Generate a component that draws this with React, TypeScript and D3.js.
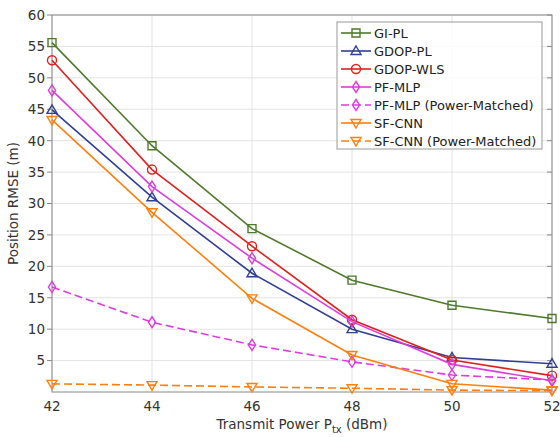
import React, { useEffect, useRef } from 'react';
import * as d3 from 'd3';

const powers = [42, 44, 46, 48, 50, 52];
const giPL = [55.6, 39.2, 26.0, 17.8, 13.8, 11.7];
const gdopPL = [44.9, 31.0, 18.9, 10.0, 5.5, 4.5];
const gdopWLS = [52.8, 35.4, 23.2, 11.5, 5.1, 2.6];
const pfMLP = [48.0, 32.7, 21.3, 11.2, 4.4, 1.8];
const pfMLPPM = [16.7, 11.1, 7.5, 4.8, 2.7, 1.9];
const sfCNN = [43.3, 28.6, 14.9, 5.9, 1.3, 0.3];
const sfCNNPM = [1.3, 1.1, 0.8, 0.6, 0.3, 0.2];
const yTicks = [5, 10, 15, 20, 25, 30, 35, 40, 45, 50, 55, 60];

const series = [
  { name: 'GI-PL', values: giPL, color: '#4e7a2b', marker: 'square', dashed: false },
  { name: 'GDOP-PL', values: gdopPL, color: '#2f3f93', marker: 'triangle', dashed: false },
  { name: 'GDOP-WLS', values: gdopWLS, color: '#e0201e', marker: 'circle', dashed: false },
  { name: 'PF-MLP', values: pfMLP, color: '#dd3ddd', marker: 'diamond', dashed: false },
  { name: 'PF-MLP (Power-Matched)', values: pfMLPPM, color: '#dd3ddd', marker: 'diamond', dashed: true },
  { name: 'SF-CNN', values: sfCNN, color: '#ff7f0e', marker: 'tridown', dashed: false },
  { name: 'SF-CNN (Power-Matched)', values: sfCNNPM, color: '#ff7f0e', marker: 'tridown', dashed: true },
];

function markerPath(kind: string) {
  // paths centered on 0,0
  if (kind === 'square') return 'M-4,-4H4V4H-4Z';
  if (kind === 'triangle') return 'M0,-5L5,3.5L-5,3.5Z';
  if (kind === 'tridown') return 'M0,5L5,-3.5L-5,-3.5Z';
  if (kind === 'diamond') return 'M0,-5.5L3.6,0L0,5.5L-3.6,0Z';
  return d3.symbol(d3.symbolCircle, 64)() as string;
}

export default function App() {
  const svgRef = useRef<SVGSVGElement>(null);

  useEffect(() => {
    const svg = d3.select(svgRef.current);
    svg.selectAll('*').remove();

    const margin = { left: 52, right: 8, top: 15, bottom: 45 };
    const width = 560;
    const height = 437;
    const x = d3.scaleLinear().domain([42, 52]).range([margin.left, width - margin.right]);
    const y = d3.scaleLinear().domain([0, 60]).range([height - margin.bottom, margin.top]);
    const font = 'DejaVu Sans, sans-serif';

    const plot = svg.append('g');

    // grid
    plot.selectAll('.gx').data(powers).enter().append('line')
      .attr('x1', (d) => x(d)).attr('x2', (d) => x(d))
      .attr('y1', y(0)).attr('y2', y(60))
      .attr('stroke', '#e3e3e3').attr('stroke-width', 1);
    plot.selectAll('.gy').data(yTicks).enter().append('line')
      .attr('x1', x(42)).attr('x2', x(52))
      .attr('y1', (d) => y(d)).attr('y2', (d) => y(d))
      .attr('stroke', '#e3e3e3').attr('stroke-width', 1);

    // spines
    plot.append('rect')
      .attr('x', x(42)).attr('y', y(60))
      .attr('width', x(52) - x(42)).attr('height', y(0) - y(60))
      .attr('fill', 'none').attr('stroke', '#888').attr('stroke-width', 1);

    // ticks
    plot.selectAll('.ty').data(yTicks).enter().append('line')
      .attr('x1', x(42) - 5).attr('x2', x(42))
      .attr('y1', (d) => y(d)).attr('y2', (d) => y(d))
      .attr('stroke', '#888');
    plot.selectAll('.tyr').data(yTicks).enter().append('line')
      .attr('x1', x(52) - 5).attr('x2', x(52))
      .attr('y1', (d) => y(d)).attr('y2', (d) => y(d))
      .attr('stroke', '#888');
    plot.selectAll('.tyl').data(yTicks).enter().append('text')
      .attr('x', x(42) - 7).attr('y', (d) => y(d))
      .attr('dy', '0.36em').attr('text-anchor', 'end')
      .attr('font-family', font).attr('font-size', 13.5).attr('fill', '#333')
      .text((d) => d);
    plot.selectAll('.txl').data(powers).enter().append('text')
      .attr('x', (d) => x(d)).attr('y', y(0) + 19)
      .attr('text-anchor', 'middle')
      .attr('font-family', font).attr('font-size', 13.5).attr('fill', '#333')
      .text((d) => d);

    // axis titles
    const xt = svg.append('text')
      .attr('x', (x(42) + x(52)) / 2).attr('y', 429)
      .attr('text-anchor', 'middle')
      .attr('font-family', font).attr('font-size', 13.5).attr('fill', '#333');
    xt.append('tspan').text('Transmit Power P');
    xt.append('tspan').attr('font-size', 10).attr('dy', 4).text('tx');
    xt.append('tspan').attr('dy', -4).text(' (dBm)');

    svg.append('text')
      .attr('transform', `translate(18,${(y(0) + y(60)) / 2}) rotate(-90)`)
      .attr('text-anchor', 'middle')
      .attr('font-family', font).attr('font-size', 13.5).attr('fill', '#333')
      .text('Position RMSE (m)');

    // lines
    const line = d3.line<number>().x((_, i) => x(powers[i])).y((d) => y(d));
    series.forEach((s) => {
      const g = plot.append('g');
      g.append('path')
        .attr('d', line(s.values))
        .attr('fill', 'none').attr('stroke', s.color).attr('stroke-width', 1.6)
        .attr('stroke-dasharray', s.dashed ? '8,4' : null);
      g.selectAll('path.m').data(s.values).enter().append('path')
        .attr('class', 'm')
        .attr('d', markerPath(s.marker))
        .attr('transform', (d, i) => `translate(${x(powers[i])},${y(d)})`)
        .attr('fill', 'none').attr('stroke', s.color).attr('stroke-width', 1.4);
    });

    // legend
    const lg = svg.append('g').attr('transform', 'translate(337,22)');
    lg.append('rect').attr('width', 205).attr('height', 127)
      .attr('fill', 'white').attr('fill-opacity', 0.85)
      .attr('stroke', '#999').attr('stroke-width', 1);
    series.forEach((s, i) => {
      const yy = 11 + i * 18;
      const row = lg.append('g');
      row.append('line').attr('x1', 4).attr('x2', 34).attr('y1', yy).attr('y2', yy)
        .attr('stroke', s.color).attr('stroke-width', 1.6)
        .attr('stroke-dasharray', s.dashed ? '8,4' : null);
      row.append('path').attr('d', markerPath(s.marker))
        .attr('transform', `translate(19,${yy})`)
        .attr('fill', 'none').attr('stroke', s.color).attr('stroke-width', 1.4);
      row.append('text').attr('x', 37).attr('y', yy).attr('dy', '0.36em')
        .attr('font-family', font).attr('font-size', 13).attr('fill', '#222')
        .text(s.name);
    });
  }, []);

  return <svg ref={svgRef} width={560} height={437} style={{ position: 'absolute', left: 0, top: 0 }} />;
}
